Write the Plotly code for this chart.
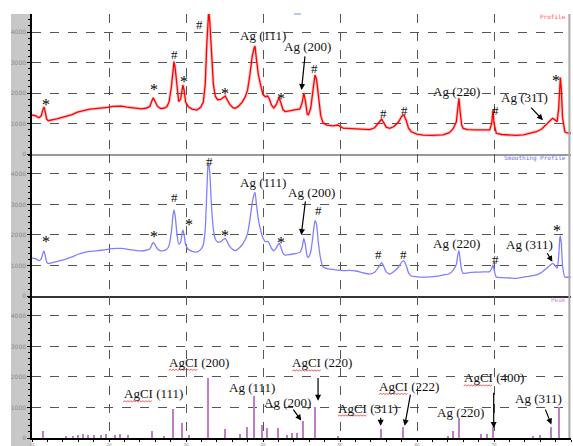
import plotly.graph_objects as go
from plotly.subplots import make_subplots

# ---------------- data ----------------
two_theta = [
    10.0, 10.5, 10.9, 11.2, 11.45, 11.56, 11.7, 11.9, 12.1, 12.6,
    13.2, 13.8, 14.5, 15.2, 15.9, 16.7, 17.5, 18.3, 19.0, 19.8,
    20.5, 21.0, 21.6, 22.3, 23.0, 23.6, 24.2, 24.8, 25.3, 25.6,
    25.75, 25.95, 26.3, 26.7, 27.1, 27.5, 27.8, 28.1, 28.3, 28.44,
    28.6, 28.8, 29.05, 29.3, 29.5, 29.6, 29.75, 29.95, 30.3, 30.8,
    31.4, 31.9, 32.25, 32.5, 32.7, 32.85, 32.95, 33.1, 33.3, 33.55,
    33.8, 34.1, 34.5, 34.85, 35.1, 35.35, 35.7, 36.1, 36.4, 36.8,
    37.3, 37.7, 38.0, 38.3, 38.6, 38.85, 38.96, 39.15, 39.4, 39.7,
    40.0, 40.3, 40.6, 40.8, 41.1, 41.4, 41.7, 42.0, 42.1, 42.3,
    42.6, 42.9, 43.5, 44.2, 44.8, 45.1, 45.3, 45.5, 45.75, 45.9,
    46.2, 46.5, 46.75, 46.95, 47.2, 47.5, 47.8, 48.3, 49.1, 49.7,
    50.4, 51.2, 52.1, 53.0, 53.85, 54.5, 55.1, 55.4, 55.7, 56.0,
    56.45, 57.0, 57.6, 58.0, 58.3, 58.6, 58.9, 59.25, 60.0, 60.8,
    61.8, 62.7, 63.4, 64.2, 64.7, 65.1, 65.3, 65.45, 65.6, 65.8,
    66.0, 66.6, 67.7, 68.6, 69.44, 69.7, 69.87, 70.0, 70.3, 71.0,
    72.0, 72.9, 73.8, 74.7, 75.5, 76.2, 76.8, 77.3, 77.6, 77.9,
    78.2, 78.4, 78.55, 78.62, 78.75, 78.9, 79.2, 79.5, 80.0,
]

profile = [
    1280, 1250, 1190, 1250, 1480, 1540, 1400, 1150, 1090, 1110,
    1150, 1190, 1230, 1290, 1370, 1430, 1470, 1490, 1500, 1530,
    1560, 1570, 1570, 1540, 1510, 1490, 1480, 1500, 1560, 1760,
    1840, 1740, 1560, 1490, 1500, 1550, 1700, 2200, 2800, 3030,
    2800, 2200, 1720, 1800, 2150, 2260, 2100, 1700, 1550, 1470,
    1440, 1530, 1700, 2300, 3600, 4600, 4700, 4300, 3200, 2300,
    1900, 1780, 1790, 1860, 1900, 1780, 1620, 1520, 1500, 1560,
    1700, 1880, 2100, 2600, 3200, 3480, 3540, 3100, 2600, 2250,
    1950, 1880, 1900, 1820, 1600, 1510, 1610, 1800, 1830, 1700,
    1450, 1390, 1420, 1440, 1480, 1700, 1990, 1750, 1300, 1290,
    1500, 2100, 2590, 2450, 1800, 1250, 1020, 950, 920, 950,
    850, 840, 840, 810, 800, 860, 1050, 1140, 1020, 880,
    840, 900, 1050, 1230, 1280, 1100, 850, 730, 650, 620,
    610, 620, 630, 700, 830, 1050, 1500, 1830, 1400, 950,
    840, 800, 790, 780, 790, 1000, 1440, 1000, 680, 640,
    620, 610, 630, 680, 730, 820, 960, 1080, 1170, 1120,
    1060, 1500, 2400, 2510, 2100, 1200, 730, 690, 680,
]

smoothing = [
    1240, 1220, 1160, 1220, 1420, 1475, 1350, 1120, 1070, 1090,
    1130, 1170, 1220, 1280, 1360, 1420, 1460, 1480, 1500, 1530,
    1550, 1560, 1560, 1540, 1510, 1490, 1480, 1500, 1540, 1700,
    1760, 1690, 1540, 1480, 1490, 1530, 1660, 2100, 2620, 2820,
    2620, 2100, 1700, 1760, 2080, 2160, 2020, 1680, 1530, 1460,
    1440, 1520, 1680, 2200, 3400, 4250, 4350, 4000, 3000, 2200,
    1870, 1770, 1780, 1850, 1890, 1780, 1620, 1520, 1490, 1550,
    1680, 1850, 2060, 2500, 3050, 3340, 3400, 3000, 2500, 2150,
    1900, 1780, 1790, 1730, 1560, 1480, 1570, 1700, 1730, 1620,
    1400, 1340, 1360, 1390, 1430, 1620, 1890, 1680, 1290, 1270,
    1450, 2000, 2470, 2350, 1720, 1200, 960, 900, 870, 850,
    830, 840, 820, 760, 720, 780, 980, 1090, 960, 790,
    720, 800, 950, 1110, 1150, 1000, 760, 655, 630, 620,
    630, 650, 690, 730, 850, 1030, 1350, 1490, 1200, 850,
    740, 760, 780, 790, 800, 900, 1020, 880, 620, 600,
    590, 580, 620, 650, 690, 780, 900, 1010, 1070, 1010,
    910, 1300, 1900, 1970, 1700, 1000, 620, 615, 620,
]

peak_pos = [
    11.5, 14.5, 15.3, 16.06, 16.66, 17.3, 18.1, 18.96, 19.7, 20.78,
    21.4, 22.5, 25.67, 27.2, 28.4, 29.57, 30.4, 32.86, 35.06, 37.0,
    37.9, 38.83, 39.87, 40.56, 42.04, 43.2, 43.8, 44.4, 45.19, 46.8,
    49.74, 55.36, 58.18, 64.1, 64.67, 65.45, 68.4, 69.1, 69.87, 75.06,
    76.0, 77.45, 78.5,
]
peak_int = [
    240, 80, 80, 110, 130, 110, 110, 110, 130, 110,
    130, 90, 230, 80, 940, 490, 90, 1970, 300, 140,
    360, 1390, 420, 330, 330, 110, 160, 180, 550, 1000,
    80, 300, 360, 80, 240, 620, 130, 130, 360, 80,
    90, 360, 1000,
]

y_ticks = [0, 1000, 2000, 3000, 4000]
x_ticks = [10, 20, 30, 40, 50, 60, 70, 80]

# labels: (text, 2theta, intensity)
labels_profile = [
    ("*", 11.8, 1770), ("*", 25.84, 2260), ("#", 28.48, 3250), ("*", 29.74, 2510),
    ("#", 31.7, 4260), ("*", 35.1, 2100), ("Ag (111)", 40.04, 3870), ("*", 42.3, 1960),
    ("Ag (200)", 45.84, 3520), ("#", 46.71, 2810), ("#", 55.71, 1330), ("#", 58.4, 1440),
    ("Ag (220)", 65.1, 2040), ("#", 70.17, 1440), ("Ag (311)", 73.98, 1850), ("*", 78.0, 2530),
]
arrows_profile = [((45.47, 3250), (45.0, 2100)), ((74.63, 1570), (76.36, 1110))]

labels_smooth = [
    ("*", 11.8, 1920), ("*", 25.84, 2090), ("#", 28.48, 3240), ("*", 30.4, 2460),
    ("#", 32.99, 4400), ("*", 35.1, 2110), ("Ag (111)", 40.04, 3730), ("*", 42.3, 1890),
    ("Ag (200)", 46.27, 3390), ("#", 47.27, 2790), ("#", 55.0, 1370), ("#", 58.27, 1370),
    ("Ag (220)", 65.1, 1730), ("#", 70.17, 1200), ("Ag (311)", 74.63, 1700), ("*", 78.18, 2270),
]
arrows_smooth = [((45.53, 3150), (44.97, 2000)), ((76.8, 1450), (77.58, 1120))]

labels_peak = [
    ("AgCI (111)", 25.75, 1450), ("AgCI (200)", 31.65, 2480), ("Ag (111)", 38.6, 1670),
    ("Ag (200)", 43.2, 1150), ("AgCI (220)", 47.7, 2460), ("AgCI (311)", 53.64, 980),
    ("AgCI (222)", 58.96, 1690), ("Ag (220)", 65.63, 850), ("AgCI (400)", 69.96, 1970),
    ("Ag (311)", 75.84, 1310),
]
arrows_peak = [
    ((43.8, 980), (44.97, 570)), ((47.15, 2020), (47.15, 1220)), ((55.28, 710), (55.28, 400)),
    ((59.18, 1470), (58.4, 400)), ((69.96, 1530), (69.96, 330)), ((76.6, 980), (77.45, 440)),
]

# ---------------- figure ----------------
fig = make_subplots(rows=3, cols=1, shared_xaxes=True, vertical_spacing=0)

fig.add_trace(go.Scatter(x=two_theta, y=profile, mode="lines",
                         line=dict(color="rgba(255,60,60,0.3)", width=3),
                         hoverinfo="skip", showlegend=False), row=1, col=1)
fig.add_trace(go.Scatter(x=two_theta, y=profile, mode="lines",
                         line=dict(color="#ff0000", width=1.3),
                         name="Profile", showlegend=False), row=1, col=1)
fig.add_trace(go.Scatter(x=two_theta, y=smoothing, mode="lines",
                         line=dict(color="#8080ff", width=1.3, shape="spline", smoothing=0.6),
                         name="Smoothing Profile", showlegend=False), row=2, col=1)
fig.add_trace(go.Bar(x=peak_pos, y=peak_int, width=0.2,
                     marker=dict(color="#c27cc8", line=dict(width=0)),
                     name="Peak", showlegend=False), row=3, col=1)

grid = dict(showgrid=True, gridcolor="#555555", gridwidth=1, griddash="dash")

fig.update_xaxes(range=[10, 80], tickvals=x_ticks, zeroline=False, **grid)
fig.update_xaxes(showticklabels=False, ticks="", showline=True, linecolor="#999999",
                 linewidth=1.5, row=1, col=1)
fig.update_xaxes(showticklabels=False, ticks="", showline=True, linecolor="#333333",
                 linewidth=1.5, row=2, col=1)
fig.update_xaxes(showticklabels=True, ticks="outside", ticklen=1, tickcolor="#000",
                 showline=True, linecolor="#000000", linewidth=1.5,
                 tickfont=dict(size=4, color="#888888", family="DejaVu Sans"),
                 minor=dict(dtick=2, ticks="outside", ticklen=2, tickcolor="#000", showgrid=False),
                 row=3, col=1)

yax = dict(tickvals=y_ticks, zeroline=False, showline=True, linecolor="#000000", linewidth=1.5,
           ticks="outside", ticklen=3, tickcolor="#000",
           tickfont=dict(size=6, color="#888888", family="DejaVu Sans"),
           minor=dict(dtick=200, ticks="outside", ticklen=2, tickcolor="#000", showgrid=False),
           **grid)
fig.update_yaxes(range=[0, 4590], domain=[0.6698, 1.0], row=1, col=1, **yax)
fig.update_yaxes(range=[0, 4655], domain=[0.3349, 0.6698], row=2, col=1, **yax)
fig.update_yaxes(range=[0, 4655], domain=[0.0, 0.3349], row=3, col=1, **yax)

annotations = []
shapes = []
serif = dict(family="Liberation Serif", size=13, color="#111111")
star_font = dict(family="Liberation Serif", size=16, color="#000000")

# wavy spell-check underline under "AgCI"
wave = "M -30,-8 " + " ".join(
    f"L {-30 + 1.5 * (k + 1):.1f},{-8 + (1 if k % 2 == 0 else 0)}" for k in range(19))


def add_labels(labels, arrows, xr, yr):
    for text, x, y in labels:
        if text == "*":
            annotations.append(dict(text=text, x=x, y=y, xref=xr, yref=yr, showarrow=False,
                                    font=star_font, xanchor="center", yanchor="middle",
                                    yshift=-4))
        else:
            annotations.append(dict(text=text, x=x, y=y, xref=xr, yref=yr, showarrow=False,
                                    font=serif, xanchor="center", yanchor="middle"))
        if text.startswith("AgCI"):
            shapes.append(dict(type="path", xref=xr, yref=yr, xsizemode="pixel",
                               ysizemode="pixel", xanchor=x, yanchor=y, path=wave,
                               line=dict(color="#e03030", width=0.8)))
    for (tx, ty), (hx, hy) in arrows:
        annotations.append(dict(text="", x=hx, y=hy, ax=tx, ay=ty, xref=xr, yref=yr,
                                axref=xr, ayref=yr, showarrow=True, arrowhead=2,
                                arrowsize=1, arrowwidth=1.2, arrowcolor="#000000",
                                standoff=0, startstandoff=0))


add_labels(labels_profile, arrows_profile, "x", "y")
add_labels(labels_smooth, arrows_smooth, "x2", "y2")
add_labels(labels_peak, arrows_peak, "x3", "y3")

mono = "DejaVu Sans Mono"
annotations += [
    dict(text="Profile", x=0.995, y=0.995, xref="paper", yref="paper", showarrow=False,
         xanchor="right", yanchor="middle", font=dict(family=mono, size=6, color="#ff5a5a")),
    dict(text="Smoothing Profile", x=0.995, y=0.661, xref="paper", yref="paper", showarrow=False,
         xanchor="right", yanchor="middle", font=dict(family=mono, size=6, color="#6a6aff")),
    dict(text="Peak", x=0.995, y=0.326, xref="paper", yref="paper", showarrow=False,
         xanchor="right", yanchor="middle", font=dict(family=mono, size=6, color="#cc88cc")),
]

shapes += [
    dict(type="rect", xref="paper", yref="paper", x0=-0.039, x1=-0.001, y0=-0.02, y1=1.0,
         fillcolor="#c8c8c8", line=dict(width=0), layer="below"),
    dict(type="line", xref="paper", yref="paper", x0=0.997, x1=0.997, y0=0, y1=1,
         line=dict(color="#aaaaaa", width=2)),
    dict(type="line", xref="paper", yref="paper", x0=0.486, x1=0.499, y0=1.0, y1=1.0,
         line=dict(color="#99bbdd", width=1.5)),
]

fig.update_layout(
    width=573, height=446,
    margin=dict(l=32, r=2, t=14, b=8, autoexpand=False),
    paper_bgcolor="white", plot_bgcolor="white",
    showlegend=False, bargap=0,
    annotations=annotations, shapes=shapes,
)

fig.write_html("out.html", config={"displayModeBar": False},
               post_script="document.body.style.margin='0';document.body.style.overflow='hidden';")
